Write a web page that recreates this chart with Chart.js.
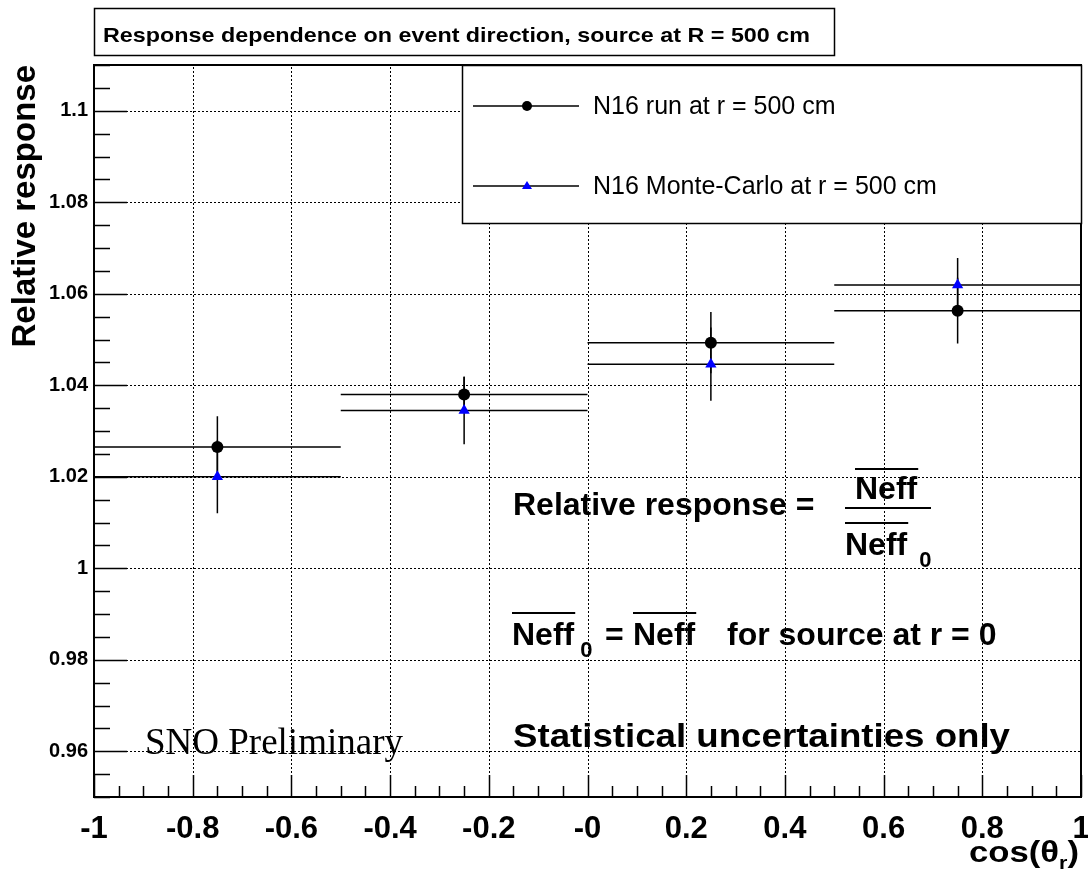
<!DOCTYPE html>
<html>
<head>
<meta charset="utf-8">
<title>Response dependence on event direction</title>
<script src="https://cdn.jsdelivr.net/npm/chart.js@4/dist/chart.umd.min.js"></script>
<style>
  html, body { margin: 0; padding: 0; background: #fff; }
  #wrap { width: 1088px; height: 873px; }
</style>
</head>
<body>
<div id="wrap"><canvas id="myChart" width="1088" height="873"></canvas></div>
<script>
// bins in cos(theta_r)
const binCenters = [-0.75, -0.25, 0.25, 0.75];
const binHalfWidth = [0.25, 0.25, 0.25, 0.25];

// N16 run at r = 500 cm
const runResponse = [1.0265, 1.0380, 1.0493, 1.0563];
const runError = [0.0067, 0.0038, 0.0067, 0.0072];

// N16 Monte-Carlo at r = 500 cm
const mcResponse = [1.0200, 1.0345, 1.0446, 1.0619];
const mcError = [0.0080, 0.0074, 0.0080, 0.0059];

// axes
const xTicks = [-1, -0.8, -0.6, -0.4, -0.2, 0, 0.2, 0.4, 0.6, 0.8, 1];
const xTickLabels = ["-1", "-0.8", "-0.6", "-0.4", "-0.2", "-0", "0.2", "0.4", "0.6", "0.8", "1"];
const yTicks = [0.96, 0.98, 1, 1.02, 1.04, 1.06, 1.08, 1.1];
const yTickLabels = ["0.96", "0.98", "1", "1.02", "1.04", "1.06", "1.08", "1.1"];
const xMinorStep = 0.05;
const yMinorStep = 0.005;

const SANS = '"Liberation Sans", Arial, Helvetica, sans-serif';
const SERIF = '"Liberation Serif", "Times New Roman", serif';

function toPoints(ys) {
    return binCenters.map((x, i) => ({ x: x, y: ys[i] }));
}

function drawErrors(ctx, x, y, ys, errs) {
    ctx.beginPath();
    binCenters.forEach((c, i) => {
        const px = x.getPixelForValue(c);
        const py = y.getPixelForValue(ys[i]);
        ctx.moveTo(x.getPixelForValue(c - binHalfWidth[i]), py);
        ctx.lineTo(x.getPixelForValue(c + binHalfWidth[i]), py);
        ctx.moveTo(px, y.getPixelForValue(ys[i] - errs[i]));
        ctx.lineTo(px, y.getPixelForValue(ys[i] + errs[i]));
    });
    ctx.stroke();
}

// text stretched sideways to a given width (the old X fonts run wide)
function fitText(ctx, str, x, y, width) {
    const w = ctx.measureText(str).width;
    ctx.save();
    ctx.translate(x, y);
    ctx.scale(width / w, 1);
    ctx.fillText(str, 0, 0);
    ctx.restore();
}

// text with a bar over it, returns the end x
function barText(ctx, str, x, y, barY) {
    ctx.fillText(str, x, y);
    const w = ctx.measureText(str).width;
    ctx.fillRect(x, barY, w + 1, 2);
    return x + w;
}

const rootStyle = {
    id: 'rootStyle',
    beforeDraw(chart) {
        const ctx = chart.ctx;
        ctx.save();
        ctx.fillStyle = '#fff';
        ctx.fillRect(0, 0, chart.width, chart.height);
        ctx.restore();
    },
    beforeDatasetsDraw(chart) {
        const { ctx, chartArea: a, scales: { x, y } } = chart;
        ctx.save();

        // dotted grid
        ctx.strokeStyle = '#000';
        ctx.lineWidth = 1;
        ctx.setLineDash([2, 2]);
        ctx.beginPath();
        xTicks.forEach(v => {
            const px = Math.round(x.getPixelForValue(v)) + 0.5;
            ctx.moveTo(px, a.bottom);
            ctx.lineTo(px, a.top);
        });
        yTicks.forEach(v => {
            const py = Math.round(y.getPixelForValue(v)) + 0.5;
            ctx.moveTo(a.left, py);
            ctx.lineTo(a.right, py);
        });
        ctx.stroke();
        ctx.setLineDash([]);

        // tick marks inside the frame
        ctx.lineWidth = 1.5;
        ctx.beginPath();
        for (let v = x.min; v <= x.max + 1e-9; v += xMinorStep) {
            const major = Math.abs(v * 5 - Math.round(v * 5)) < 1e-6;
            const px = Math.round(x.getPixelForValue(v)) + 0.5;
            ctx.moveTo(px, a.bottom);
            ctx.lineTo(px, a.bottom - (major ? 22 : 11));
        }
        for (let v = yTicks[0] - yMinorStep * 2; v <= y.max + 1e-9; v += yMinorStep) {
            if (v < y.min) continue;
            const major = Math.abs(v * 50 - Math.round(v * 50)) < 1e-6;
            const py = Math.round(y.getPixelForValue(v)) + 0.5;
            ctx.moveTo(a.left, py);
            ctx.lineTo(a.left + (major ? 33 : 16), py);
        }
        ctx.stroke();

        // error bars
        ctx.lineWidth = 1.5;
        ctx.strokeStyle = '#000';
        drawErrors(ctx, x, y, mcResponse, mcError);
        drawErrors(ctx, x, y, runResponse, runError);
        ctx.restore();
    },
    afterDatasetsDraw(chart) {
        const { ctx, chartArea: a } = chart;
        ctx.save();
        ctx.fillStyle = '#000';
        ctx.textBaseline = 'alphabetic';
        ctx.textAlign = 'left';

        // formula and notes
        ctx.font = 'bold 32px ' + SANS;
        ctx.fillText('Relative response =', 513, 515);
        barText(ctx, 'Neff', 855, 499, 468);
        ctx.fillRect(845, 507, 86, 2);
        const d = barText(ctx, 'Neff', 845, 555, 522);
        ctx.font = 'bold 22px ' + SANS;
        ctx.fillText('0', d + 12, 567);

        ctx.font = 'bold 32px ' + SANS;
        const n0 = barText(ctx, 'Neff', 512, 645, 612);
        ctx.font = 'bold 22px ' + SANS;
        ctx.fillText('0', n0 + 6, 657);
        ctx.font = 'bold 32px ' + SANS;
        ctx.fillText('=', 605, 645);
        barText(ctx, 'Neff', 633, 645, 612);
        ctx.fillText('for source at r = 0', 727, 645);

        ctx.font = 'bold 34px ' + SANS;
        fitText(ctx, 'Statistical uncertainties only', 513, 747, 497);

        ctx.font = '37px ' + SERIF;
        ctx.fillText('SNO Preliminary', 145, 754);

        // frame
        ctx.strokeStyle = '#000';
        ctx.lineWidth = 2;
        ctx.strokeRect(a.left, a.top, a.right - a.left, a.bottom - a.top);
        ctx.restore();
    },
    afterDraw(chart) {
        const { ctx, chartArea: a } = chart;
        ctx.save();
        ctx.strokeStyle = '#000';
        ctx.fillStyle = '#000';
        ctx.textBaseline = 'alphabetic';
        ctx.textAlign = 'left';

        // title box
        ctx.fillStyle = '#fff';
        ctx.fillRect(94, 8, 740, 47);
        ctx.lineWidth = 1.5;
        ctx.strokeRect(94.5, 8.5, 740, 47);
        ctx.fillStyle = '#000';
        ctx.font = 'bold 21px ' + SANS;
        fitText(ctx, 'Response dependence on event direction, source at R = 500 cm', 103, 42, 707);

        // legend box
        const lx = 462, ly = a.top, lw = a.right - 462, lh = 158;
        ctx.fillStyle = '#fff';
        ctx.fillRect(lx, ly, lw, lh);
        ctx.lineWidth = 1.5;
        ctx.strokeRect(lx + 0.5, ly + 0.5, lw, lh);
        const rows = [106, 186];
        chart.data.datasets.forEach((ds, i) => {
            const ry = rows[i];
            ctx.lineWidth = 1.5;
            ctx.beginPath();
            ctx.moveTo(473, ry);
            ctx.lineTo(579, ry);
            ctx.stroke();
            ctx.fillStyle = ds.backgroundColor;
            ctx.beginPath();
            if (ds.pointStyle === 'triangle') {
                ctx.moveTo(527, ry - 5);
                ctx.lineTo(532, ry + 3);
                ctx.lineTo(522, ry + 3);
                ctx.closePath();
            } else {
                ctx.arc(527, ry, 5, 0, Math.PI * 2);
            }
            ctx.fill();
            ctx.fillStyle = '#000';
            ctx.font = '25px ' + SANS;
            ctx.fillText(ds.label, 593, ry + 8);
        });

        // x axis title cos(theta_r), right aligned to the frame
        const big = 'bold 29px ' + SANS, small = 'bold 18px ' + SANS;
        ctx.font = big;
        const w1 = ctx.measureText('cos(\u03b8').width;
        const w3 = ctx.measureText(')').width;
        ctx.font = small;
        const w2 = ctx.measureText('r').width;
        const stretch = 110 / (w1 + w2 + w3);
        ctx.translate(1079, 0);
        ctx.scale(stretch, 1);
        let tx = -(w1 + w2 + w3);
        ctx.font = big;
        ctx.fillText('cos(\u03b8', tx, 862);
        tx += w1;
        ctx.font = small;
        ctx.fillText('r', tx, 869);
        tx += w2;
        ctx.font = big;
        ctx.fillText(')', tx, 862);
        ctx.restore();
    }
};

const myChartRef = document.getElementById('myChart').getContext('2d');
new Chart(myChartRef, {
    type: 'scatter',
    data: {
        datasets: [
            {
                label: 'N16 run at r = 500 cm',
                data: toPoints(runResponse),
                pointStyle: 'circle',
                pointRadius: 6,
                backgroundColor: '#000000',
                borderWidth: 0
            },
            {
                label: 'N16 Monte-Carlo at r = 500 cm',
                data: toPoints(mcResponse),
                pointStyle: 'triangle',
                pointRadius: 6.5,
                backgroundColor: '#0000ff',
                borderWidth: 0
            }
        ]
    },
    options: {
        responsive: false,
        devicePixelRatio: 1,
        animation: false,
        events: [],
        layout: { padding: { left: 0, top: 65, right: 7, bottom: 0 } },
        plugins: {
            legend: { display: false },
            tooltip: { enabled: false }
        },
        scales: {
            x: {
                type: 'linear',
                min: -1,
                max: 1,
                grid: { display: false, drawTicks: false },
                border: { display: false },
                afterBuildTicks: scale => { scale.ticks = xTicks.map(v => ({ value: v })); },
                afterFit: scale => {
                    scale.height = 76;
                    scale.paddingLeft = 0;
                    scale.paddingRight = 0;
                },
                ticks: {
                    autoSkip: false,
                    maxRotation: 0,
                    padding: 14,
                    color: '#000',
                    font: { family: SANS, size: 31, weight: 'bold' },
                    callback: (value, index) => xTickLabels[index]
                }
            },
            y: {
                type: 'linear',
                min: 0.95,
                max: 1.11,
                grid: { display: false, drawTicks: false },
                border: { display: false },
                afterBuildTicks: scale => { scale.ticks = yTicks.map(v => ({ value: v })); },
                afterFit: scale => { scale.width = 94; },
                ticks: {
                    padding: 6,
                    color: '#000',
                    font: { family: SANS, size: 20, weight: 'bold' },
                    callback: (value, index) => yTickLabels[index]
                },
                title: {
                    display: true,
                    text: 'Relative response',
                    align: 'end',
                    color: '#000',
                    padding: { top: 6, bottom: 0 },
                    font: { family: SANS, size: 33, weight: 'bold' }
                }
            }
        }
    },
    plugins: [rootStyle]
});
</script>
</body>
</html>
